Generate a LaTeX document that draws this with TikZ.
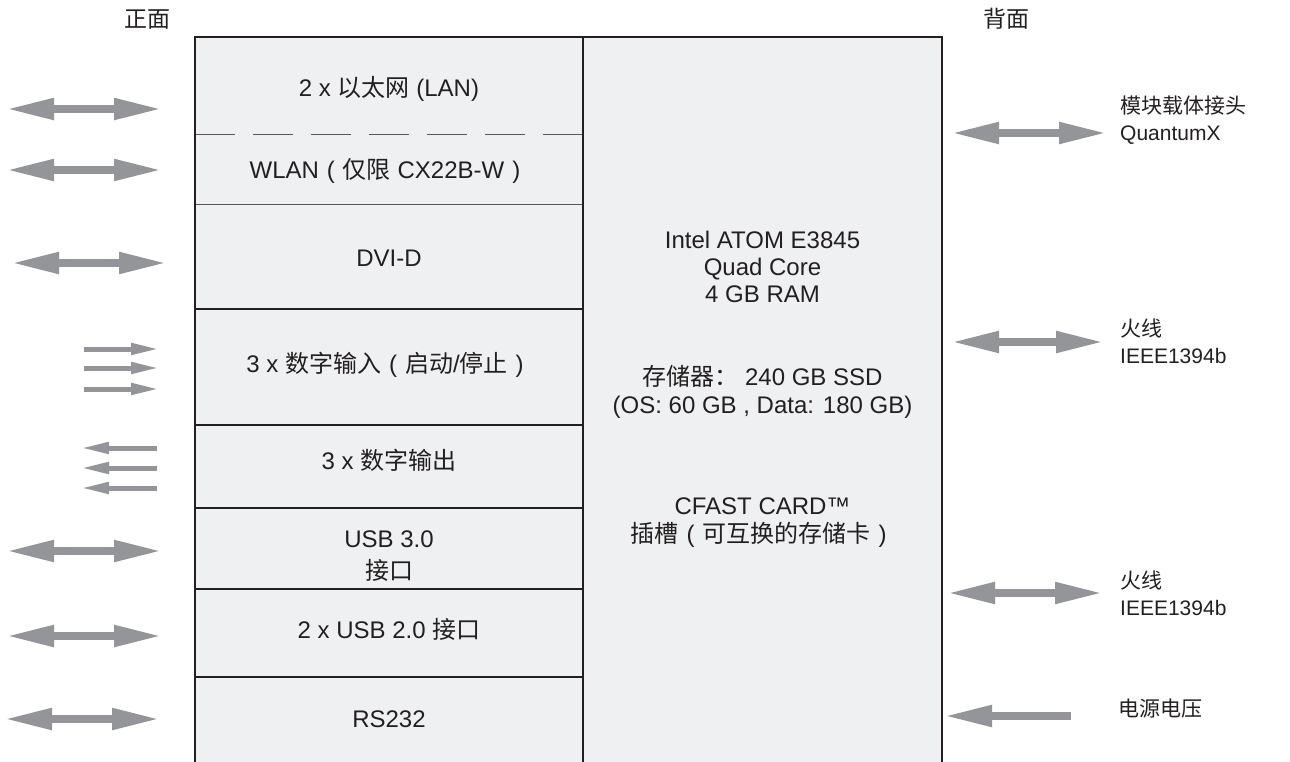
\documentclass[tikz,border=0pt]{standalone}
\usepackage{fontspec}
\setmainfont{Liberation Sans}
\newfontfamily\cjk{Noto Sans CJK SC}
\newcommand\zh[1]{{\cjk #1}}
\newcommand\lpar{\makebox[24pt][c]{(}}
\newcommand\rpar{\makebox[24pt][c]{)}}
\newcommand\fcomma{\makebox[20pt][c]{,}}
\usetikzlibrary{arrows.meta}
\definecolor{boxfill}{HTML}{EFF0F2}
\definecolor{ink}{HTML}{231F20}
\definecolor{arrowgray}{HTML}{939598}
\tikzset{
  txt/.style={font=\fontsize{24}{27}\selectfont, text=ink, inner sep=0pt, anchor=base},
  title/.style={txt, font=\fontsize{23}{27}\selectfont},
  rlabel/.style={txt, font=\fontsize{21}{27}\selectfont, anchor=base west},
  bigtip/.tip={Triangle[length=48pt,width=20pt]},
  smalltip/.tip={Triangle[length=28pt,width=11pt]},
  dblarrow/.style={draw=arrowgray, line width=8pt, bigtip-bigtip},
  inarrow/.style={draw=arrowgray, line width=8pt, bigtip-},
  thinright/.style={draw=arrowgray, line width=5pt, -smalltip},
  thinleft/.style={draw=arrowgray, line width=5pt, smalltip-},
  frame/.style={draw=ink, line width=2.2pt},
  divider/.style={draw=ink, line width=1.8pt},
  thindivider/.style={draw=ink!75, line width=0.9pt},
  dashdivider/.style={draw=ink!75, line width=0.9pt, dash pattern=on 40pt off 18pt},
}
\begin{document}
\begin{tikzpicture}[x=1pt,y=-1pt]
\useasboundingbox (0,0) rectangle (1290,762);
% box
\fill[boxfill] (195,37) rectangle (942,764);
\draw[dashdivider] (195,134) -- (583,134);
\draw[thindivider] (195,204) -- (583,204);
\foreach \yy in {309,425,508,589,677} \draw[divider] (195,\yy) -- (583,\yy);
\draw[frame] (195,764) -- (195,37) -- (942,37) -- (942,764);
\draw[frame] (583,37) -- (583,764);

% titles
\node[title] (front) at (147,28) {\zh{正面}};
\node[title] (back) at (1006,28) {\zh{背面}};

% left column texts
\node[txt] (lan) at (389,96.5) {2 x \zh{以太网} (LAN)};
\node[txt] (wlan) at (389,178.5) {WLAN\lpar\zh{仅限} CX22B-W\rpar};
\node[txt] (dvi) at (389,266.5) {DVI-D};
\node[txt] (din) at (389,372) {3 x \zh{数字输入}\lpar\zh{启动}/\zh{停止}\rpar};
\node[txt] (dout) at (389,469.5) {3 x \zh{数字输出}};
\node[txt] (usb3a) at (389,547.5) {USB 3.0};
\node[txt] (usb3b) at (389,579) {\zh{接口}};
\node[txt] (usb2) at (389,638.5) {2 x USB 2.0 \zh{接口}};
\node[txt] (rs) at (389,727.5) {RS232};

% right column texts
\node[txt] (cpu1) at (762.5,248.5) {Intel ATOM E3845};
\node[txt] (cpu2) at (762.5,275.5) {Quad Core};
\node[txt] (cpu3) at (762.5,302.5) {4 GB RAM};
\node[txt] (mem1) at (762.5,385.5) {\zh{存储器：} 240 GB SSD};
\node[txt] (mem2) at (762.5,413) {(OS: 60 GB\fcomma Data: 180 GB)};
\node[txt] (cf1) at (762.5,514.5) {CFAST CARD™};
\node[txt] (cf2) at (762.5,542) {\zh{插槽}\lpar\zh{可互换的存储卡}\rpar};

% right labels
\node[rlabel] (qx1) at (1120,114) {\zh{模块载体接头}};
\node[rlabel] (qx2) at (1120,141) {QuantumX};
\node[rlabel] (fw1a) at (1120,336) {\zh{火线}};
\node[rlabel] (fw1b) at (1120,363) {IEEE1394b};
\node[rlabel] (fw2a) at (1120,588) {\zh{火线}};
\node[rlabel] (fw2b) at (1120,615) {IEEE1394b};
\node[rlabel] (pwr) at (1118,716) {\zh{电源电压}};

% left arrows
\coordinate (a1l) at (6,109);  \coordinate (a1r) at (162,109);
\coordinate (a2l) at (6,170);  \coordinate (a2r) at (162,170);
\coordinate (a3l) at (11,263);  \coordinate (a3r) at (167,263);
\coordinate (a4l) at (6,551);  \coordinate (a4r) at (162,551);
\coordinate (a5l) at (6,636);  \coordinate (a5r) at (162,636);
\coordinate (a6l) at (4,719);   \coordinate (a6r) at (160,719);
\foreach \n in {1,...,6} \draw[dblarrow] (a\n l) -- (a\n r);

\foreach \n/\yy in {1/349,2/368,3/389} {
  \coordinate (i\n l) at (84,\yy); \coordinate (i\n r) at (159,\yy);
  \draw[thinright] (i\n l) -- (i\n r);
}
\foreach \n/\yy in {1/448,2/468,3/488} {
  \coordinate (o\n l) at (81,\yy); \coordinate (o\n r) at (157,\yy);
  \draw[thinleft] (o\n l) -- (o\n r);
}

% right arrows
\coordinate (r1l) at (951,133); \coordinate (r1r) at (1107,133);
\coordinate (r2l) at (951,342); \coordinate (r2r) at (1104,342);
\coordinate (r3l) at (947,593); \coordinate (r3r) at (1103,593);
\foreach \n in {1,2,3} \draw[dblarrow] (r\n l) -- (r\n r);
\coordinate (pl) at (944,716); \coordinate (pr) at (1071,716);
\draw[inarrow] (pl) -- (pr);
\end{tikzpicture}
\end{document}
